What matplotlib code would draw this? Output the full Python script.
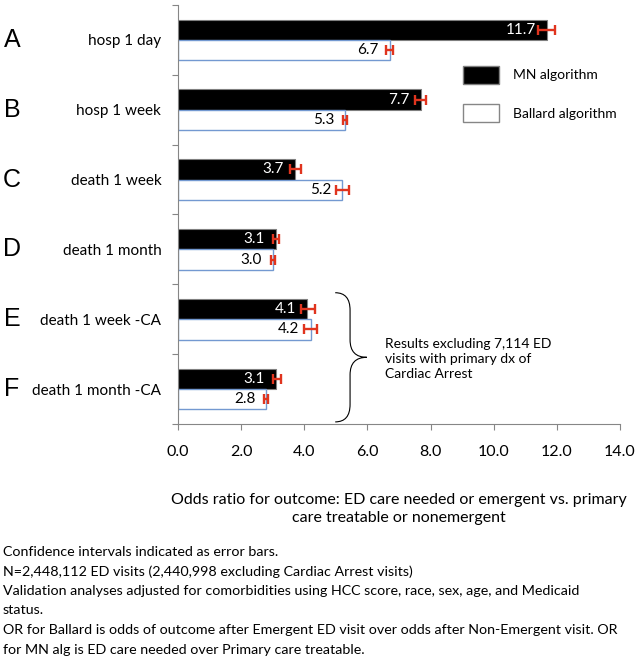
import numpy as np
import matplotlib
matplotlib.use('Agg')
import matplotlib.pyplot as plt
import matplotlib.transforms as mtransforms
from matplotlib.path import Path
from matplotlib.patches import PathPatch, Patch
from matplotlib.ticker import FixedLocator, FormatStrFormatter

# 数据
letters = ['A', 'B', 'C', 'D', 'E', 'F']
outcomes = ['hosp 1 day', 'hosp 1 week', 'death 1 week', 'death 1 month',
            'death 1 week -CA', 'death 1 month -CA']
mn_or = [11.7, 7.7, 3.7, 3.1, 4.1, 3.1]
mn_lo = [11.4, 7.5, 3.55, 3.0, 3.9, 3.0]
mn_hi = [11.95, 7.85, 3.9, 3.2, 4.35, 3.25]
ballard_or = [6.7, 5.3, 5.2, 3.0, 4.2, 2.8]
ballard_lo = [6.6, 5.24, 5.0, 2.93, 4.0, 2.73]
ballard_hi = [6.8, 5.36, 5.42, 3.08, 4.4, 2.86]
brace_note = 'Results excluding 7,114 ED\nvisits with primary dx of\nCardiac Arrest'
xlabel_text = ('Odds ratio for outcome: ED care needed or emergent vs. primary\n'
               'care treatable or nonemergent')
footnotes = [
    'Confidence intervals indicated as error bars.',
    'N=2,448,112 ED visits (2,440,998 excluding Cardiac Arrest visits)',
    'Validation analyses adjusted for comorbidities using HCC score, race, sex, age, and Medicaid',
    'status.',
    'OR for Ballard is odds of outcome after Emergent ED visit over odds after Non-Emergent visit. OR',
    'for MN alg is ED care needed over Primary care treatable.',
]

FONT = ['Lato', 'DejaVu Sans']
plt.rcParams['font.family'] = FONT
GRAY = '#868686'
RED = '#E0341E'
BLUE = '#7399D1'

fig = plt.figure(figsize=(6.36, 6.57), dpi=100)
ax = fig.add_axes([178 / 636, 1 - 424 / 657, 442 / 636, 419 / 657])

y = np.arange(len(outcomes))
h = 0.29

ax.barh(y - h / 2, mn_or, height=h, color='black', edgecolor='#7f7f7f', linewidth=0.8,
        zorder=2)
ax.barh(y + h / 2, ballard_or, height=h, color='white', edgecolor=BLUE, linewidth=1.0,
        zorder=2)

# 误差线
mn_err = [np.array(mn_or) - np.array(mn_lo), np.array(mn_hi) - np.array(mn_or)]
b_err = [np.array(ballard_or) - np.array(ballard_lo), np.array(ballard_hi) - np.array(ballard_or)]
ax.errorbar(mn_or, y - h / 2, xerr=mn_err, fmt='none', ecolor=RED, elinewidth=1.7,
            capsize=3.5, capthick=1.7, zorder=3)
ax.errorbar(ballard_or, y + h / 2, xerr=b_err, fmt='none', ecolor=RED, elinewidth=1.7,
            capsize=3.5, capthick=1.7, zorder=3)

# 数值标签
for yi, v in zip(y, mn_or):
    ax.annotate(f'{v:.1f}', (v, yi - h / 2), xytext=(-8, 0), textcoords='offset points',
                ha='right', va='center', color='white', fontsize=11, zorder=4)
for yi, v in zip(y, ballard_or):
    ax.annotate(f'{v:.1f}', (v, yi + h / 2), xytext=(-8, 0), textcoords='offset points',
                ha='right', va='center', color='black', fontsize=11, zorder=4)

ax.set_xlim(0, 14)
ax.set_ylim(len(outcomes) - 0.5, -0.5)
ax.set_xticks(np.arange(0, 15, 2))
ax.xaxis.set_major_formatter(FormatStrFormatter('%.1f'))
ax.tick_params(axis='x', direction='out', length=4, width=0.8, color=GRAY, pad=11,
               labelsize=11.5)

# y轴：主刻度放标签，次刻度画分隔线
ax.set_yticks(y)
ax.set_yticklabels(outcomes, fontsize=11)
ax.yaxis.set_minor_locator(FixedLocator(np.arange(-0.5, len(outcomes), 1.0)))
ax.tick_params(axis='y', which='major', length=0, pad=12)
ax.tick_params(axis='y', which='minor', length=4, width=0.8, color=GRAY)

for s in ['top', 'right']:
    ax.spines[s].set_visible(False)
for s in ['left', 'bottom']:
    ax.spines[s].set_color(GRAY)
    ax.spines[s].set_linewidth(0.8)

# 左侧字母
letter_tr = mtransforms.blended_transform_factory(fig.transFigure, ax.transData)
for yi, letter in zip(y, letters):
    ax.text(12 / 636, yi, letter, transform=letter_tr, ha='center', va='center',
            fontsize=18, family=['Liberation Sans', 'DejaVu Sans'])

# 图例
ax.legend(handles=[Patch(facecolor='black', edgecolor='#7f7f7f', label='MN algorithm'),
                   Patch(facecolor='white', edgecolor=GRAY, label='Ballard algorithm')],
          loc='upper left', bbox_to_anchor=(0.645, 0.855), frameon=False, fontsize=10,
          handlelength=2.6, handleheight=1.6, labelspacing=1.5, handletextpad=1.0,
          borderpad=0, borderaxespad=0)

# 大括号（E、F 两组）
xb0, xb1, xt = 4.98, 5.45, 5.98
yt, yb = 4 - 0.38, 5 + 0.47
ym = (yt + yb) / 2
r = 0.25
verts = [(xb0, yt), (xb1, yt), (xb1, yt + r), (xb1, ym - r), (xb1, ym), (xt, ym),
         (xb1, ym), (xb1, ym + r), (xb1, yb - r), (xb1, yb), (xb0, yb)]
codes = [Path.MOVETO, Path.CURVE3, Path.CURVE3, Path.LINETO, Path.CURVE3, Path.CURVE3,
         Path.CURVE3, Path.CURVE3, Path.LINETO, Path.CURVE3, Path.CURVE3]
ax.add_patch(PathPatch(Path(verts, codes), facecolor='none', edgecolor='black', lw=0.8,
                       clip_on=False))
ax.text(6.55, ym + 0.02, brace_note, ha='left', va='center', fontsize=10, linespacing=1.3)

# x轴标题与脚注
fig.text(399 / 636, 1 - 509 / 657, xlabel_text, ha='center', va='center', fontsize=11.5,
         linespacing=1.4)
for i, line in enumerate(footnotes):
    fig.text(3 / 636, 1 - (552 + i * 19.5) / 657, line, ha='left', va='center', fontsize=10.3)

fig.savefig('out.png', dpi=100)
